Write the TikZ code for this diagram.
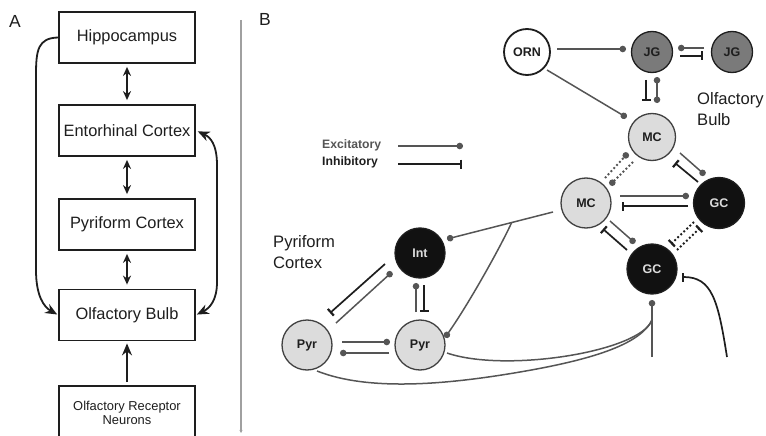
\documentclass[tikz,border=0pt]{standalone}
\usepackage{fontspec}
\setmainfont{Liberation Sans}
\usetikzlibrary{arrows.meta,calc}

\definecolor{ink}{HTML}{1E1E1E}
\definecolor{exgray}{HTML}{555555}
\definecolor{jgfill}{HTML}{7A7A7A}
\definecolor{lightcell}{HTML}{DCDCDC}
\definecolor{darkcell}{HTML}{111111}
\definecolor{divider}{HTML}{A0A0A0}

\tikzset{
  panel/.style={font=\fontsize{17.5}{17.5}\selectfont, text=ink, inner sep=0pt},
  box/.style={draw=ink, line width=1.8pt, fill=white, minimum width=136pt,
    minimum height=51pt, inner sep=0pt, text=ink, font=\fontsize{16.4}{19}\selectfont},
  twoway/.style={draw=ink, line width=1.7pt, >={Stealth[length=9pt,width=8pt]}, <->,
    shorten <=3pt, shorten >=4pt},
  feed/.style={draw=ink, line width=1.8pt, -{Stealth[length=12pt,width=10pt]}},
  cell/.style={circle, draw=ink, line width=1.3pt, inner sep=0pt,
    font=\bfseries\fontsize{12.5}{12.5}\selectfont},
  orncell/.style={cell, fill=white, line width=1.8pt, minimum size=46pt, text=ink},
  jgcell/.style={cell, fill=jgfill, minimum size=41pt, text=ink},
  mccell/.style={cell, fill=lightcell, draw=ink!85, minimum size=50pt, text=ink},
  gccell/.style={cell, fill=darkcell, minimum size=51pt, text=lightcell},
  exc/.style={draw=exgray, line width=1.5pt, -{Circle[length=6.5pt]}},
  excboth/.style={draw=exgray, line width=1.5pt, {Circle[length=6.5pt]}-{Circle[length=6.5pt]}},
  inh/.style={draw=ink, line width=1.7pt, -{Bar[width=9pt,line width=2.2pt]}},
  excdots/.style={exc, line width=1.9pt, dash pattern=on 1.9pt off 2.3pt},
  inhdots/.style={inh, line width=1.9pt, dash pattern=on 1.9pt off 2.3pt},
  axon/.style={draw=exgray, line width=1.5pt},
  region/.style={font=\fontsize{16.6}{21}\selectfont, text=ink, align=left,
    anchor=west, inner sep=0pt},
  legendtext/.style={font=\bfseries\fontsize{12.2}{12.2}\selectfont, anchor=west, inner sep=0pt}
}

\begin{document}
\begin{tikzpicture}[x=1pt,y=-1pt]
\useasboundingbox (0,0) rectangle (766,436);

% ---------- panel A: hierarchy of regions ----------
\node[panel] (labA) at (15,21) {A};
\node[box] (hip) at (127,37.5) {Hippocampus};
\node[box] (ent) at (127,130.5) {Entorhinal Cortex};
\node[box] (pyc) at (127,224.5) {Pyriform Cortex};
\node[box] (ob)  at (127,315) {Olfactory Bulb};
\node[box, minimum height=54pt, align=center,
      font=\fontsize{12.9}{14.5}\selectfont] (orb) at (127,413)
      {Olfactory Receptor\\Neurons};

\draw[twoway] (hip.south) -- (ent.north);
\draw[twoway] (ent.south) -- (pyc.north);
\draw[twoway] (pyc.south) -- (ob.north);
\draw[feed, shorten <=3pt, shorten >=2pt] (orb.north) -- (ob.south);

\draw[feed, shorten >=1pt] (hip.west) .. controls (38,38) and (36,50) .. (36,75)
  -- (36,270) .. controls (36,296) and (44,307) .. (ob.west);
\draw[feed, {Stealth[length=12pt,width=10pt]}-{Stealth[length=12pt,width=10pt]},
      shorten <=2pt, shorten >=1pt]
  (ent.east) .. controls (210,137) and (217,144) .. (217,165)
  -- (217,282) .. controls (217,300) and (210,308) .. (ob.east);

% divider between the panels
\coordinate (divtop) at (241,20);
\coordinate (divbot) at (241,433);
\draw[divider, line width=1.4pt, -{Stealth[length=3pt,width=3pt]}] (divtop) -- (divbot);

% ---------- panel B: circuit ----------
\node[panel] (labB) at (265,19) {B};

\node[orncell] (orn) at (527,52) {ORN};
\node[jgcell] (jg1) at (652,52) {JG};
\node[jgcell] (jg2) at (732,52) {JG};
\node[mccell, minimum size=47pt] (mc1) at (652,137) {MC};
\node[mccell] (mc2) at (586,203) {MC};
\node[gccell] (gc1) at (719,203) {GC};
\node[gccell, minimum size=50pt] (gc2) at (652,269) {GC};
\node[gccell, minimum size=50pt] (int) at (420,253) {Int};
\node[mccell] (pyr1) at (307,345) {Pyr};
\node[mccell] (pyr2) at (420,345) {Pyr};

\node[region] (obtext) at (697,109) {Olfactory\\Bulb};
\node[region] (pctext) at (273,252) {Pyriform\\Cortex};

% legend
\node[legendtext, text=exgray] (lex) at (322,145) {Excitatory};
\node[legendtext, text=ink] (lin) at (322,162) {Inhibitory};
\coordinate (lgexa) at (398,146);
\coordinate (lgexb) at (463,146);
\coordinate (lgina) at (398,164);
\coordinate (lginb) at (462,164);
\draw[exc] (lgexa) -- (lgexb);
\draw[inh] (lgina) -- (lginb);

% glomerular layer
\draw[exc] ($(orn)+(30,-3)$) -- ($(jg1)+(-26,-3)$);
\draw[exc] ($(orn)+(20,18)$) -- ($(mc1)+(-25.4,-19.5)$);
\draw[exc] ($(jg2)+(-28,-4)$) -- ($(jg1)+(26,-4)$);
\draw[inh] ($(jg1)+(28,4)$) -- ($(jg2)+(-29,4)$);
\draw[inh] ($(jg1)+(-6,28)$) -- ($(mc1)+(-6,-36)$);
\draw[excboth] ($(mc1)+(5,-34)$) -- ($(jg1)+(5,25)$);

% mitral / granule cell network
\draw[excdots] ($(mc2)+(19,-25)$) -- ($(mc1)+(-24,16)$);
\draw[excdots] ($(mc1)+(-19,25)$) -- ($(mc2)+(24,-18)$);
\draw[inh] ($(gc1)+(-21,-21)$) -- ($(mc1)+(23,26)$);
\draw[exc] ($(mc1)+(28,16)$) -- ($(gc1)+(-14,-28)$);
\draw[exc] ($(mc2)+(34,-7)$) -- ($(gc1)+(-30,-7)$);
\draw[inh] ($(gc1)+(-31,3)$) -- ($(mc2)+(36,3)$);
\draw[inh] ($(gc2)+(-25,-19)$) -- ($(mc2)+(17,26)$);
\draw[exc] ($(mc2)+(24,18)$) -- ($(gc2)+(-17,-26)$);
\draw[inhdots] ($(gc1)+(-25,19)$) -- ($(gc2)+(19,-25)$);
\draw[inhdots] ($(gc2)+(25,-19)$) -- ($(gc1)+(-19,25)$);

% bulb output to cortex
\coordinate (mcax) at ($(mc2)+(-33,9)$);
\coordinate (intdot) at ($(int)+(27,-14)$);
\coordinate (br) at ($(mcax)!0.39!(intdot)$);
\draw[exc] (mcax) -- (intdot);
\draw[exc] (br) .. controls (500,248) and (468,305) .. ($(pyr2)+(25,-7.5)$);

% piriform circuit
\draw[inh] ($(int)+(-35,11)$) -- ($(pyr1)+(23,-32)$);
\draw[exc] ($(pyr1)+(29,-22)$) -- ($(int)+(-28,19)$);
\draw[exc] ($(pyr2)+(-4,-33)$) -- ($(int)+(-4,30)$);
\draw[inh] ($(int)+(4,32)$) -- ($(pyr2)+(4,-33)$);
\draw[exc] ($(pyr1)+(35,-3)$) -- ($(pyr2)+(-30,-3)$);
\draw[exc] ($(pyr2)+(-31,8)$) -- ($(pyr1)+(33,8)$);

% centrifugal feedback onto granule cells
\coordinate (gcfoot) at (652,357);
\coordinate (join) at (652,320);
\draw[exc] (gcfoot) -- ($(gc2)+(0,31)$);
\draw[axon] ($(pyr2)+(27,8)$) .. controls (505,373) and (640,352) .. (join);
\draw[axon] ($(pyr1)+(10,26)$) .. controls (370,392) and (450,384) .. (520,372)
  .. controls (590,360) and (640,345) .. (join);
\coordinate (gcin) at (727,357);
\draw[inh] (gcin) .. controls (718,300) and (712,277) .. ($(gc2)+(30,8)$);
\end{tikzpicture}
\end{document}
